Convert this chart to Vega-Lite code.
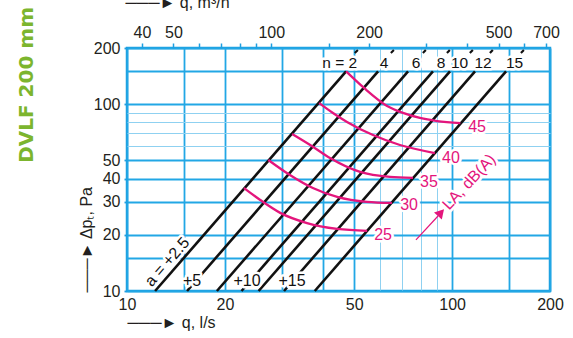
{
  "$schema": "https://vega.github.io/schema/vega-lite/v6.json",
  "width": 423,
  "height": 243,
  "autosize": "none",
  "padding": {"left": 127, "top": 48, "right": 23, "bottom": 47},
  "background": "white",
  "config": {
    "view": {"stroke": "#1d9fe0", "strokeWidth": 2.5},
    "axis": {"labelFont": "Liberation Sans", "labelFontSize": 16, "labelColor": "#231f20", "titleFont": "Liberation Sans", "titleFontSize": 16, "titleFontWeight": "normal", "titleColor": "#231f20", "domain": false}
  },
  "title": {"text": "DVLF 200 mm", "orient": "left", "anchor": "end", "frame": "group", "font": "DejaVu Sans", "fontSize": 20, "fontWeight": "bold", "color": "#7cb52e", "offset": 41, "dx": 41},
  "datasets": {
    "lines": [
      {"n": "2", "q": 47.2, "p": 150}, {"n": "2", "q": 12.2, "p": 10},
      {"n": "4", "q": 59.2, "p": 150}, {"n": "4", "q": 15.3, "p": 10},
      {"n": "6", "q": 73.2, "p": 150}, {"n": "6", "q": 18.9, "p": 10},
      {"n": "8", "q": 87.3, "p": 150}, {"n": "8", "q": 22.5, "p": 10},
      {"n": "10", "q": 98.5, "p": 150}, {"n": "10", "q": 25.4, "p": 10},
      {"n": "12", "q": 117.6, "p": 150}, {"n": "12", "q": 30.4, "p": 10},
      {"n": "15", "q": 146.5, "p": 150}, {"n": "15", "q": 37.8, "p": 10}
    ],
    "marks": [
      {"n": "2", "q": 50.2, "p": 188, "q2": 51.3, "p2": 195},
      {"n": "4", "q": 64.8, "p": 188, "q2": 66.2, "p2": 195},
      {"n": "6", "q": 81.3, "p": 188, "q2": 83.0, "p2": 195},
      {"n": "8", "q": 96.4, "p": 188, "q2": 98.4, "p2": 195},
      {"n": "10", "q": 113.4, "p": 188, "q2": 115.8, "p2": 195},
      {"n": "12", "q": 130.7, "p": 188, "q2": 133.4, "p2": 195},
      {"n": "15", "q": 162.8, "p": 188, "q2": 166.2, "p2": 195}
    ],
    "curves": [
      {"L": 45, "q": 47.2, "p": 150}, {"L": 45, "q": 53.6, "p": 122.2}, {"L": 45, "q": 63.1, "p": 97.9}, {"L": 45, "q": 70.6, "p": 89.8}, {"L": 45, "q": 79.6, "p": 84.4}, {"L": 45, "q": 89.9, "p": 81.3}, {"L": 45, "q": 106, "p": 79.3},
      {"L": 40, "q": 39.0, "p": 101.5}, {"L": 40, "q": 43.0, "p": 89.8}, {"L": 40, "q": 47.5, "p": 80.4}, {"L": 40, "q": 57.1, "p": 68.4}, {"L": 40, "q": 69.1, "p": 60.5}, {"L": 40, "q": 88.5, "p": 54.8},
      {"L": 35, "q": 32.2, "p": 69.3}, {"L": 35, "q": 36.6, "p": 60.5}, {"L": 35, "q": 42.1, "p": 51.5}, {"L": 35, "q": 52.1, "p": 43.4}, {"L": 35, "q": 64.4, "p": 40.8}, {"L": 35, "q": 75.8, "p": 40.3},
      {"L": 30, "q": 27.2, "p": 50.3}, {"L": 30, "q": 31.7, "p": 41.8}, {"L": 30, "q": 37.3, "p": 35.6}, {"L": 30, "q": 44.3, "p": 31.9}, {"L": 30, "q": 54.7, "p": 30.0}, {"L": 30, "q": 65.3, "p": 29.6},
      {"L": 25, "q": 22.9, "p": 35.6}, {"L": 25, "q": 25.7, "p": 30.7}, {"L": 25, "q": 29.6, "p": 26.2}, {"L": 25, "q": 35.8, "p": 23.1}, {"L": 25, "q": 44.3, "p": 21.5}, {"L": 25, "q": 54.8, "p": 21.0}
    ],
    "topLabels": [
      {"t": "n = 2", "q": 45.1, "p": 166},
      {"t": "4", "q": 61.7, "p": 166},
      {"t": "6", "q": 77.4, "p": 166},
      {"t": "8", "q": 92.4, "p": 166},
      {"t": "10", "q": 105.4, "p": 166},
      {"t": "12", "q": 124.5, "p": 166},
      {"t": "15", "q": 155.6, "p": 166}
    ],
    "aLabels": [
      {"t": "+5", "q": 15.85, "p": 11.32},
      {"t": "+10", "q": 23.39, "p": 11.32},
      {"t": "+15", "q": 32.18, "p": 11.32}
    ],
    "aLabel": [{"t": "a = +2.5", "q": 13.3, "p": 14.3}],
    "levelLabels": [
      {"t": "45", "q": 119.3, "p": 75.5},
      {"t": "40", "q": 99.2, "p": 51.5},
      {"t": "35", "q": 84.9, "p": 38.3},
      {"t": "30", "q": 73.7, "p": 28.9},
      {"t": "25", "q": 61.3, "p": 19.95}
    ],
    "laLabel": [{"t": "LA, dB(A)", "q": 112.7, "p": 38.3}],
    "arrow": [{"q": 77.4, "p": 18.76, "q2": 90.5, "p2": 25.2}],
    "arrowHead": [{"q": 92.4, "p": 26.3}]
  },
  "layer": [
    {
      "data": {"values": [{"q": 100}]},
      "mark": {"type": "rule", "opacity": 0},
      "encoding": {
        "x": {
          "field": "q", "type": "quantitative",
          "scale": {"type": "log", "domain": [10, 200], "nice": false},
          "axis": {
            "orient": "top",
            "values": [11.1111, 13.8889, 16.6667, 19.4444, 22.2222, 25, 27.7778, 41.6667, 55.5556, 83.3333, 111.111, 138.889, 166.667, 194.444],
            "labelExpr": "indexof([40,50,100,200,500,700], round(datum.value*3.6)) >= 0 ? format(round(datum.value*3.6), 'd') : ''",
            "labelFlush": false, "labelOverlap": false, "labelPadding": 3,
            "ticks": true, "tickSize": 5, "tickColor": "#1d9fe0", "tickWidth": 1.5,
            "grid": false, "domain": false,
            "title": "───► q, m³/h", "titleAnchor": "start", "titleAlign": "left", "titleX": -2, "titleY": -41, "titleBaseline": "alphabetic"
          }
        }
      }
    },
    {
      "data": {"name": "lines"},
      "mark": {"type": "line", "color": "#111111", "strokeWidth": 2.6},
      "encoding": {
        "x": {
          "field": "q", "type": "quantitative",
          "scale": {"type": "log", "domain": [10, 200], "nice": false},
          "axis": {
            "orient": "bottom",
            "values": [10, 15, 20, 30, 40, 50, 60, 70, 80, 90, 100, 150, 200],
            "format": "d",
            "labelExpr": "indexof([10,20,50,100,200], datum.value) >= 0 ? datum.label : ''",
            "labelFlush": false, "labelOverlap": false, "labelPadding": 5,
            "ticks": false, "domain": false,
            "grid": true,
            "gridColor": {"condition": {"test": "datum.value >= 60 && datum.value <= 90", "value": "#8fd1f1"}, "value": "#22a7e5"},
            "gridWidth": {"condition": {"test": "datum.value >= 60 && datum.value <= 90", "value": 1}, "value": 1.8},
            "title": "───► q, l/s", "titleAnchor": "start", "titleAlign": "left", "titleX": 0, "titleY": 36, "titleBaseline": "alphabetic"
          }
        },
        "y": {
          "field": "p", "type": "quantitative",
          "scale": {"type": "log", "domain": [10, 200], "nice": false},
          "axis": {
            "orient": "left",
            "values": [10, 15, 20, 30, 40, 50, 60, 70, 80, 90, 100, 150, 200],
            "format": "d",
            "labelExpr": "indexof([10,20,30,40,50,100,200], datum.value) >= 0 ? datum.label : ''",
            "labelOverlap": false, "labelPadding": 4,
            "ticks": true, "tickSize": 3, "tickColor": "#1d9fe0", "tickWidth": 1.8,
            "tickOpacity": {"condition": {"test": "indexof([10,20,30,40,50,100,200], datum.value) >= 0", "value": 1}, "value": 0},
            "domain": false,
            "grid": true,
            "gridColor": {"condition": {"test": "datum.value >= 60 && datum.value <= 90", "value": "#8fd1f1"}, "value": "#22a7e5"},
            "gridWidth": {"condition": {"test": "datum.value >= 60 && datum.value <= 90", "value": 1}, "value": 1.8},
            "title": "───►  Δpₜ, Pa", "titleAngle": -90, "titleAnchor": "start", "titleAlign": "left", "titleX": -41, "titleY": 244, "titleBaseline": "middle"
          }
        },
        "detail": {"field": "n"}
      }
    },
    {
      "data": {"name": "marks"},
      "mark": {"type": "rule", "color": "#111111", "strokeWidth": 2.2},
      "encoding": {
        "x": {"field": "q", "type": "quantitative", "axis": null},
        "y": {"field": "p", "type": "quantitative"},
        "x2": {"field": "q2"},
        "y2": {"field": "p2"}
      }
    },
    {
      "data": {"name": "curves"},
      "mark": {"type": "line", "color": "#e4157c", "strokeWidth": 2.3, "interpolate": "monotone"},
      "encoding": {
        "x": {"field": "q", "type": "quantitative", "axis": null},
        "y": {"field": "p", "type": "quantitative"},
        "detail": {"field": "L"}
      }
    },
    {
      "data": {"name": "arrow"},
      "mark": {"type": "rule", "color": "#e4157c", "strokeWidth": 1.2},
      "encoding": {
        "x": {"field": "q", "type": "quantitative", "axis": null},
        "y": {"field": "p", "type": "quantitative"},
        "x2": {"field": "q2"},
        "y2": {"field": "p2"}
      }
    },
    {
      "data": {"name": "arrowHead"},
      "mark": {"type": "point", "shape": "triangle-up", "filled": true, "color": "#e4157c", "opacity": 1, "size": 110, "angle": 42},
      "encoding": {
        "x": {"field": "q", "type": "quantitative", "axis": null},
        "y": {"field": "p", "type": "quantitative"}
      }
    },
    {
      "data": {"name": "topLabels"},
      "mark": {"type": "text", "font": "Liberation Sans", "fontSize": 15.5, "fill": "white", "stroke": "white", "strokeWidth": 5, "strokeJoin": "round"},
      "encoding": {
        "x": {"field": "q", "type": "quantitative", "axis": null},
        "y": {"field": "p", "type": "quantitative"},
        "text": {"field": "t"}
      }
    },
    {
      "data": {"name": "topLabels"},
      "mark": {"type": "text", "font": "Liberation Sans", "fontSize": 15.5, "color": "#111111"},
      "encoding": {
        "x": {"field": "q", "type": "quantitative", "axis": null},
        "y": {"field": "p", "type": "quantitative"},
        "text": {"field": "t"}
      }
    },
    {
      "data": {"name": "aLabels"},
      "mark": {"type": "text", "font": "Liberation Sans", "fontSize": 16, "fill": "white", "stroke": "white", "strokeWidth": 5, "strokeJoin": "round"},
      "encoding": {
        "x": {"field": "q", "type": "quantitative", "axis": null},
        "y": {"field": "p", "type": "quantitative"},
        "text": {"field": "t"}
      }
    },
    {
      "data": {"name": "aLabels"},
      "mark": {"type": "text", "font": "Liberation Sans", "fontSize": 16, "color": "#111111"},
      "encoding": {
        "x": {"field": "q", "type": "quantitative", "axis": null},
        "y": {"field": "p", "type": "quantitative"},
        "text": {"field": "t"}
      }
    },
    {
      "data": {"name": "aLabel"},
      "mark": {"type": "text", "font": "Liberation Sans", "fontSize": 16, "angle": -49, "fill": "white", "stroke": "white", "strokeWidth": 5, "strokeJoin": "round"},
      "encoding": {
        "x": {"field": "q", "type": "quantitative", "axis": null},
        "y": {"field": "p", "type": "quantitative"},
        "text": {"field": "t"}
      }
    },
    {
      "data": {"name": "aLabel"},
      "mark": {"type": "text", "font": "Liberation Sans", "fontSize": 16, "angle": -49, "color": "#111111"},
      "encoding": {
        "x": {"field": "q", "type": "quantitative", "axis": null},
        "y": {"field": "p", "type": "quantitative"},
        "text": {"field": "t"}
      }
    },
    {
      "data": {"name": "levelLabels"},
      "mark": {"type": "text", "font": "Liberation Sans", "fontSize": 16, "fill": "white", "stroke": "white", "strokeWidth": 5, "strokeJoin": "round"},
      "encoding": {
        "x": {"field": "q", "type": "quantitative", "axis": null},
        "y": {"field": "p", "type": "quantitative"},
        "text": {"field": "t"}
      }
    },
    {
      "data": {"name": "levelLabels"},
      "mark": {"type": "text", "font": "Liberation Sans", "fontSize": 16, "color": "#e4157c"},
      "encoding": {
        "x": {"field": "q", "type": "quantitative", "axis": null},
        "y": {"field": "p", "type": "quantitative"},
        "text": {"field": "t"}
      }
    },
    {
      "data": {"name": "laLabel"},
      "mark": {"type": "text", "font": "Liberation Sans", "fontSize": 16, "angle": -47, "fill": "white", "stroke": "white", "strokeWidth": 5, "strokeJoin": "round"},
      "encoding": {
        "x": {"field": "q", "type": "quantitative", "axis": null},
        "y": {"field": "p", "type": "quantitative"},
        "text": {"field": "t"}
      }
    },
    {
      "data": {"name": "laLabel"},
      "mark": {"type": "text", "font": "Liberation Sans", "fontSize": 16, "angle": -47, "color": "#e4157c"},
      "encoding": {
        "x": {"field": "q", "type": "quantitative", "axis": null},
        "y": {"field": "p", "type": "quantitative"},
        "text": {"field": "t"}
      }
    }
  ],
  "resolve": {"axis": {"x": "independent"}}
}
